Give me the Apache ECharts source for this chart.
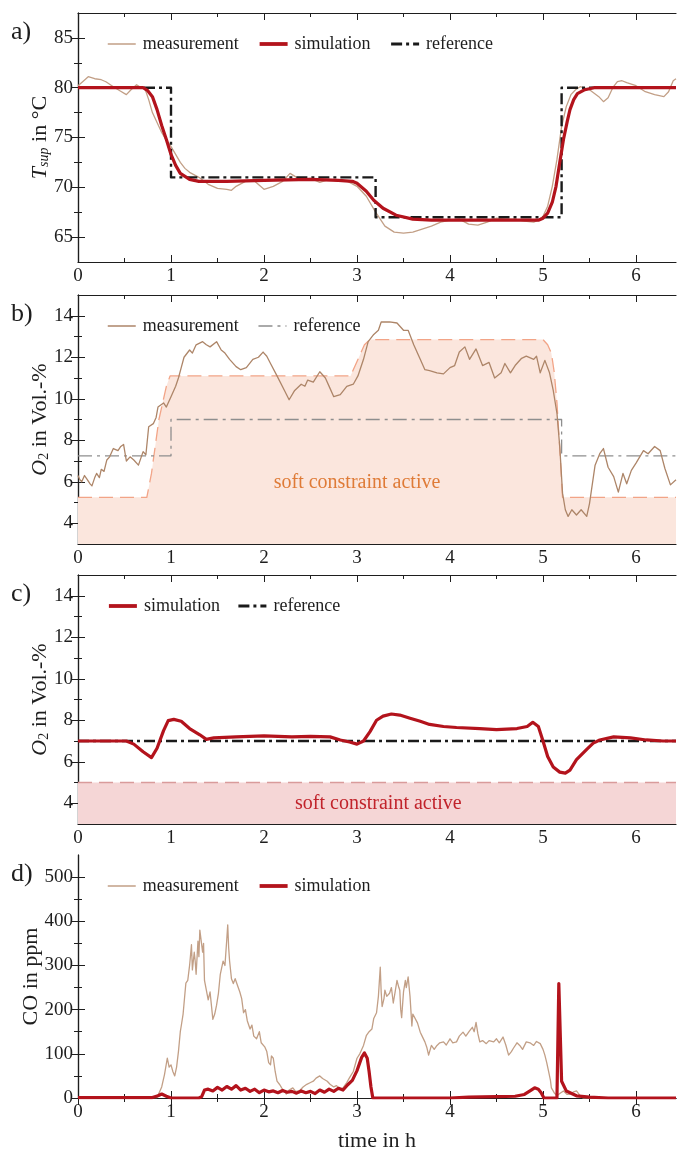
<!DOCTYPE html>
<html>
<head>
<meta charset="utf-8">
<script src="https://cdn.jsdelivr.net/npm/echarts@6/dist/echarts.min.js"></script>
<style>
  html, body { margin: 0; padding: 0; background: #ffffff; }
  #chart { width: 677px; height: 1153px; }
</style>
</head>
<body>
<div id="chart"></div>
<script>
// ---- axis ticks -------------------------------------------------------
const X_MAX = 6.43;
const X_TICKS = [0, 1, 2, 3, 4, 5, 6];
const X_MINOR = [0.5, 1.5, 2.5, 3.5, 4.5, 5.5];
const TSUP_TICKS = [65, 70, 75, 80, 85];
const TSUP_MINOR = [67.5, 72.5, 77.5, 82.5];
const O2_TICKS = [4, 6, 8, 10, 12, 14];
const O2_MINOR = [5, 7, 9, 11, 13];
const CO_TICKS = [0, 100, 200, 300, 400, 500];
const CO_MINOR = [50, 150, 250, 350, 450];

// ---- a) supply temperature [h, °C] -----------------------------------
const TSUP_MEAS = [[0,80.2],[0.05,80.6],[0.11,81.1],[0.18,80.9],[0.25,80.8],[0.3,80.6],[0.38,80.1],[0.45,79.7],[0.52,79.3],[0.57,79.8],[0.63,80.3],[0.68,80.0],[0.72,79.9],[0.76,78.8],[0.8,77.5],[0.85,76.5],[0.9,75.5],[0.95,74.7],[1.0,74.1],[1.05,73.3],[1.1,72.5],[1.15,71.9],[1.2,71.5],[1.3,71.0],[1.4,70.3],[1.5,69.9],[1.6,69.8],[1.65,69.7],[1.7,70.1],[1.8,70.6],[1.9,70.6],[1.95,70.2],[2.0,69.8],[2.1,70.1],[2.2,70.6],[2.28,71.4],[2.35,71.0],[2.4,70.8],[2.5,70.9],[2.6,70.5],[2.7,70.8],[2.8,70.6],[2.9,70.6],[3.0,70.1],[3.1,69.1],[3.2,67.5],[3.3,66.1],[3.4,65.5],[3.5,65.4],[3.6,65.5],[3.7,65.8],[3.8,66.1],[3.9,66.5],[4.0,66.7],[4.1,66.8],[4.2,66.3],[4.3,66.2],[4.4,66.5],[4.5,66.9],[4.6,66.8],[4.7,66.8],[4.8,66.6],[4.9,66.5],[4.95,66.7],[5.0,67.1],[5.05,68.1],[5.1,70.1],[5.15,72.8],[5.2,76.1],[5.25,78.1],[5.3,79.3],[5.35,79.8],[5.4,80.1],[5.5,79.8],[5.6,79.1],[5.65,78.6],[5.7,79.0],[5.75,80.0],[5.8,80.6],[5.85,80.7],[5.9,80.5],[6.0,80.2],[6.1,79.6],[6.2,79.3],[6.3,79.1],[6.35,79.6],[6.4,80.7],[6.43,80.9]];
const TSUP_SIM = [[0,80.0],[0.7,80.0],[0.75,79.7],[0.8,79.1],[0.85,77.8],[0.9,76.2],[0.95,74.8],[1.0,73.3],[1.05,72.2],[1.1,71.4],[1.2,70.8],[1.3,70.6],[1.6,70.6],[2.0,70.7],[2.5,70.8],[2.8,70.7],[2.95,70.6],[3.0,70.4],[3.1,69.6],[3.18,68.7],[3.28,67.9],[3.42,67.2],[3.6,66.8],[3.8,66.7],[4.5,66.7],[4.95,66.7],[5.0,66.9],[5.05,67.4],[5.1,68.5],[5.14,70.1],[5.18,72.5],[5.22,74.8],[5.26,76.6],[5.29,77.8],[5.33,78.8],[5.37,79.4],[5.45,79.8],[5.55,80.0],[6.43,80.0]];
const TSUP_REF = [[0,80],[1.0,71],[3.2,67],[5.2,80],[6.43,80]];

// ---- b) O2 measurement [h, Vol.-%] -----------------------------------
const O2_MEAS = [[0,6.3],[0.02,6.1],[0.04,6.0],[0.07,6.3],[0.1,6.1],[0.13,5.9],[0.15,5.8],[0.18,6.2],[0.2,6.4],[0.23,6.2],[0.25,6.6],[0.28,6.5],[0.31,7.05],[0.34,7.2],[0.38,7.6],[0.43,7.5],[0.46,7.7],[0.49,7.8],[0.52,7.0],[0.56,7.2],[0.6,7.05],[0.65,6.8],[0.7,7.45],[0.73,7.3],[0.76,8.65],[0.81,8.8],[0.84,9.1],[0.86,9.6],[0.92,9.8],[0.95,9.6],[1.0,10.1],[1.05,10.6],[1.08,11.0],[1.11,11.5],[1.14,12.0],[1.2,12.35],[1.23,12.2],[1.27,12.6],[1.34,12.75],[1.38,12.6],[1.42,12.5],[1.49,12.75],[1.54,12.35],[1.58,12.2],[1.63,11.9],[1.7,11.55],[1.75,11.4],[1.81,11.5],[1.88,11.9],[1.94,12.0],[1.99,12.25],[2.03,12.05],[2.07,11.7],[2.14,11.1],[2.22,10.4],[2.27,9.95],[2.33,10.4],[2.4,10.7],[2.44,10.6],[2.47,10.9],[2.53,10.8],[2.6,11.3],[2.66,11.0],[2.71,10.5],[2.75,10.1],[2.82,10.2],[2.89,10.6],[2.96,10.7],[3.01,11.1],[3.07,11.9],[3.12,12.75],[3.18,13.1],[3.23,13.3],[3.26,13.7],[3.35,13.7],[3.43,13.65],[3.5,13.3],[3.55,13.3],[3.61,12.6],[3.68,11.9],[3.73,11.4],[3.78,11.35],[3.86,11.25],[3.93,11.2],[4.0,11.5],[4.05,11.6],[4.1,12.25],[4.16,12.5],[4.21,11.9],[4.28,12.4],[4.35,11.6],[4.42,11.75],[4.48,11.0],[4.55,11.25],[4.59,11.7],[4.65,11.25],[4.7,11.6],[4.77,11.95],[4.82,12.05],[4.9,11.9],[4.93,12.05],[4.97,11.25],[5.02,11.85],[5.07,11.25],[5.11,10.4],[5.15,9.3],[5.18,7.7],[5.21,5.45],[5.24,4.65],[5.27,4.33],[5.31,4.65],[5.36,4.4],[5.41,4.65],[5.47,4.33],[5.5,4.95],[5.56,6.8],[5.61,7.35],[5.65,7.6],[5.7,6.7],[5.76,6.25],[5.81,5.5],[5.86,6.4],[5.9,5.9],[5.95,6.55],[6.0,6.9],[6.08,7.5],[6.13,7.35],[6.2,7.7],[6.26,7.5],[6.31,6.65],[6.37,5.85],[6.43,6.1]];
const O2_REF_B = [[0,7.25],[1.0,9.0],[5.2,7.25],[6.43,7.25]];
const O2_BOUND_B = [[0,5.25],[0.74,5.25],[0.79,6.4],[0.87,9.0],[0.95,10.6],[0.99,11.1],[2.93,11.1],[3.0,11.8],[3.08,12.6],[3.14,12.85],[5.0,12.85],[5.05,12.6],[5.09,12.2],[5.12,11.3],[5.15,9.8],[5.18,7.6],[5.21,5.25],[6.43,5.25]];

// ---- c) O2 simulation [h, Vol.-%] ------------------------------------
const O2_SIM = [[0,7.0],[0.3,7.0],[0.52,7.0],[0.6,6.85],[0.7,6.48],[0.79,6.2],[0.85,6.65],[0.92,7.5],[0.97,7.98],[1.03,8.04],[1.11,7.95],[1.2,7.6],[1.31,7.3],[1.38,7.08],[1.46,7.15],[1.7,7.2],[2.0,7.25],[2.3,7.2],[2.5,7.22],[2.71,7.2],[2.82,7.05],[2.92,6.95],[3.0,6.85],[3.07,7.0],[3.14,7.45],[3.21,8.0],[3.28,8.2],[3.37,8.3],[3.46,8.25],[3.57,8.1],[3.68,7.95],[3.78,7.8],[3.93,7.7],[4.07,7.65],[4.32,7.6],[4.5,7.55],[4.72,7.6],[4.83,7.7],[4.89,7.9],[4.95,7.7],[5.0,7.0],[5.05,6.25],[5.11,5.75],[5.18,5.5],[5.24,5.45],[5.29,5.6],[5.36,6.1],[5.47,6.6],[5.54,6.9],[5.61,7.05],[5.76,7.2],[5.94,7.15],[6.11,7.05],[6.29,7.0],[6.43,7.0]];
const O2_REF_C = [[0,7.0],[6.43,7.0]];
const O2_BOUND_C = [[0,5.0],[6.43,5.0]];

// ---- d) CO [h, ppm] --------------------------------------------------
const CO_MEAS = [[0,1],[0.5,1],[0.85,1],[0.87,5],[0.9,25],[0.93,53],[0.96,90],[0.98,70],[1.0,75],[1.02,60],[1.04,50],[1.06,70],[1.08,105],[1.1,150],[1.11,163],[1.13,190],[1.15,237],[1.16,260],[1.18,266],[1.2,300],[1.22,347],[1.23,290],[1.25,330],[1.26,310],[1.27,280],[1.29,355],[1.3,320],[1.31,380],[1.33,377],[1.34,330],[1.35,350],[1.36,266],[1.38,270],[1.4,222],[1.42,240],[1.45,178],[1.47,190],[1.49,210],[1.51,237],[1.53,280],[1.56,310],[1.58,300],[1.6,360],[1.61,392],[1.62,340],[1.63,310],[1.65,270],[1.67,259],[1.69,270],[1.72,252],[1.74,240],[1.76,225],[1.78,193],[1.8,200],[1.82,175],[1.85,156],[1.87,165],[1.89,140],[1.92,134],[1.95,150],[1.97,125],[1.99,127],[2.01,115],[2.03,105],[2.05,80],[2.07,75],[2.08,95],[2.1,90],[2.12,60],[2.14,38],[2.17,30],[2.19,23],[2.22,15],[2.24,9],[2.27,18],[2.31,23],[2.34,15],[2.38,16],[2.42,25],[2.46,31],[2.5,35],[2.53,38],[2.56,45],[2.6,50],[2.63,44],[2.65,46],[2.68,38],[2.71,31],[2.75,25],[2.78,28],[2.82,20],[2.85,23],[2.89,35],[2.92,46],[2.96,60],[3.0,90],[3.03,100],[3.07,119],[3.1,141],[3.13,150],[3.16,156],[3.18,180],[3.21,193],[3.23,230],[3.25,296],[3.26,240],[3.27,207],[3.29,225],[3.3,244],[3.32,230],[3.35,237],[3.37,250],[3.39,215],[3.41,240],[3.43,266],[3.45,250],[3.46,244],[3.47,200],[3.48,182],[3.5,240],[3.52,266],[3.53,250],[3.55,274],[3.57,230],[3.59,163],[3.6,190],[3.62,193],[3.65,170],[3.68,149],[3.7,140],[3.73,127],[3.75,115],[3.77,97],[3.8,119],[3.83,110],[3.86,119],[3.89,125],[3.93,127],[3.96,120],[4.0,134],[4.03,125],[4.07,127],[4.1,140],[4.14,149],[4.17,140],[4.21,152],[4.24,160],[4.26,150],[4.28,171],[4.3,145],[4.32,127],[4.35,130],[4.39,123],[4.42,130],[4.47,127],[4.5,134],[4.53,125],[4.57,138],[4.6,120],[4.63,97],[4.66,105],[4.68,112],[4.72,125],[4.75,119],[4.78,110],[4.82,127],[4.86,125],[4.9,119],[4.93,128],[4.97,123],[5.0,110],[5.02,97],[5.04,80],[5.06,60],[5.08,40],[5.09,23],[5.12,12],[5.15,5],[5.18,10],[5.22,16],[5.26,8],[5.29,9],[5.33,14],[5.36,16],[5.4,5],[5.43,0],[6.43,0]];
const CO_SIM = [[0,1],[0.8,1],[0.86,5],[0.9,9],[0.95,4],[1.0,0],[1.3,0],[1.33,3],[1.36,18],[1.4,20],[1.45,16],[1.5,24],[1.55,18],[1.6,26],[1.65,20],[1.7,28],[1.75,18],[1.8,22],[1.85,15],[1.9,20],[1.95,12],[2.0,18],[2.05,14],[2.1,16],[2.15,12],[2.2,17],[2.25,13],[2.3,15],[2.35,11],[2.4,16],[2.45,12],[2.5,15],[2.55,10],[2.6,18],[2.65,13],[2.7,20],[2.75,15],[2.8,22],[2.85,18],[2.9,30],[2.95,40],[3.0,62],[3.05,92],[3.08,102],[3.11,90],[3.13,60],[3.15,25],[3.17,0],[4.0,0],[4.2,2],[4.5,3],[4.7,4],[4.8,8],[4.86,16],[4.91,23],[4.95,20],[4.98,12],[5.01,0],[5.15,0],[5.17,259],[5.2,38],[5.25,16],[5.36,5],[5.5,2],[5.7,0],[6.43,0]];

// ---- styling ---------------------------------------------------------
const FONT = 'Liberation Serif';
const INK = '#1e1e1e';
const MEAS = '#c29f86';
const MEAS_B = '#ad8568';
const SIM = '#b3131c';
const REF = '#1a1a1a';
const REF_B = '#8e8e8e';
const DASH_DOT = [11, 4, 3, 4];
const DASH_DOT_B = [14, 5, 3, 5];

// plot rectangles (px)
const GRIDS = [
  { left: 78, top: 13, width: 598, height: 249 },
  { left: 78, top: 295, width: 598, height: 249 },
  { left: 78, top: 575, width: 598, height: 249 },
  { left: 78, top: 855, width: 598, height: 249 }
];

const xAxes = [];
const yAxes = [];

function tickAxis(base, values, len, showLine) {
  return Object.assign({
    type: 'value',
    axisLine: { show: showLine, lineStyle: { color: INK, width: 1.2 } },
    axisTick: { show: true, inside: true, length: len, customValues: values, lineStyle: { color: INK, width: 1 } },
    axisLabel: { show: false, customValues: values },
    splitLine: { show: false },
    silent: true
  }, base);
}

function addPanel(gi, yMin, yMax, yTicks, yMinor, yName, nameGap, xName) {
  const xb = { gridIndex: gi, min: 0, max: X_MAX };
  const bottom = tickAxis(Object.assign({ position: 'bottom' }, xb), X_TICKS, 7, true);
  bottom.axisLabel = { show: true, customValues: X_TICKS, fontFamily: FONT, fontSize: 19, color: INK, margin: 5 };
  if (xName) {
    bottom.name = xName;
    bottom.nameLocation = 'middle';
    bottom.nameGap = 32;
    bottom.nameMoveOverlap = false;
    bottom.nameTextStyle = { fontFamily: FONT, fontSize: 22, color: INK };
  }
  xAxes.push(bottom);
  xAxes.push(tickAxis(Object.assign({ position: 'bottom' }, xb), X_MINOR, 4, false));
  xAxes.push(tickAxis(Object.assign({ position: 'top' }, xb), X_TICKS, 7, true));
  xAxes.push(tickAxis(Object.assign({ position: 'top' }, xb), X_MINOR, 4, false));

  const yb = { gridIndex: gi, min: yMin, max: yMax };
  const left = tickAxis(Object.assign({ position: 'left' }, yb), yTicks, 7, true);
  left.axisLabel = { show: true, customValues: yTicks, fontFamily: FONT, fontSize: 19, color: INK, margin: 5 };
  left.name = yName;
  left.nameLocation = 'middle';
  left.nameRotate = 90;
  left.nameGap = nameGap;
  left.nameMoveOverlap = false;
  left.nameTextStyle = {
    fontFamily: FONT, fontSize: 22, color: INK,
    rich: {
      it: { fontFamily: FONT, fontSize: 22, fontStyle: 'italic', color: INK, lineHeight: 24, verticalAlign: 'bottom' },
      sub: { fontFamily: FONT, fontSize: 14, fontStyle: 'italic', color: INK, lineHeight: 10, verticalAlign: 'bottom' },
      subr: { fontFamily: FONT, fontSize: 14, color: INK, lineHeight: 10, verticalAlign: 'bottom' },
      n: { fontFamily: FONT, fontSize: 22, color: INK, lineHeight: 24, verticalAlign: 'bottom' }
    }
  };
  yAxes.push(left);
  yAxes.push(tickAxis(Object.assign({ position: 'left' }, yb), yMinor, 4, false));
  yAxes.push(tickAxis(Object.assign({ position: 'right' }, yb), yTicks, 7, true));
  yAxes.push(tickAxis(Object.assign({ position: 'right' }, yb), yMinor, 4, false));
}

addPanel(0, 62.5, 87.5, TSUP_TICKS, TSUP_MINOR, '{it|T}{sub|sup}{n| in °C}', 27);
addPanel(1, 3, 15, O2_TICKS, O2_MINOR, '{it|O}{subr|2}{n| in Vol.-%}', 27);
addPanel(2, 3, 15, O2_TICKS, O2_MINOR, '{it|O}{subr|2}{n| in Vol.-%}', 27);
addPanel(3, 0, 550, CO_TICKS, CO_MINOR, '{n|CO in ppm}', 36, 'time in h');

function line(name, gi, data, color, width, dash, extra) {
  return Object.assign({
    name: name,
    type: 'line',
    xAxisIndex: gi * 4,
    yAxisIndex: gi * 4,
    data: data,
    symbol: 'none',
    showSymbol: false,
    smooth: false,
    silent: true,
    animation: false,
    lineStyle: { color: color, width: width, type: dash || 'solid', cap: 'butt', join: 'round' },
    itemStyle: { color: color }
  }, extra || {});
}

const series = [
  // a)
  line('a measurement', 0, TSUP_MEAS, MEAS, 1.3),
  line('a reference', 0, TSUP_REF, REF, 2.4, DASH_DOT, { step: 'end', z: 3 }),
  line('a simulation', 0, TSUP_SIM, SIM, 3.2, null, { z: 4 }),
  // b)
  line('b bound', 1, O2_BOUND_B, '#f2a487', 1.3, [14, 7], {
    areaStyle: { color: '#fbe6dd', opacity: 1, origin: 'start' }, z: 1
  }),
  line('b reference', 1, O2_REF_B, REF_B, 1.3, DASH_DOT_B, { step: 'end', z: 3 }),
  line('b measurement', 1, O2_MEAS, MEAS_B, 1.3, null, { z: 4 }),
  // c)
  line('c bound', 2, O2_BOUND_C, '#d99b9b', 1.3, [14, 7], {
    areaStyle: { color: '#f5d6d6', opacity: 1, origin: 'start' }, z: 1
  }),
  line('c reference', 2, O2_REF_C, REF, 2.4, DASH_DOT, { z: 3 }),
  line('c simulation', 2, O2_SIM, SIM, 3.2, null, { z: 4 }),
  // d)
  line('d measurement', 3, CO_MEAS, MEAS, 1.3),
  line('d simulation', 3, CO_SIM, SIM, 3.2, null, { z: 4 })
];

// legend entries: [series name, icon line width]
function legendAt(top, entries, gap) {
  return {
    left: 107, top: top, padding: 0,
    orient: 'horizontal',
    itemWidth: 28, itemHeight: 14, itemGap: gap,
    selectedMode: false,
    data: entries.map(e => ({ name: e[0], lineStyle: { width: e[1] } })),
    formatter: function (n) { return n.slice(2); },
    itemStyle: { opacity: 0 },
    textStyle: { fontFamily: FONT, fontSize: 18, color: INK, padding: [0, 0, 0, 2] }
  };
}

const chart = echarts.init(document.getElementById('chart'), null, { renderer: 'canvas' });

chart.setOption({
  backgroundColor: '#ffffff',
  animation: false,
  grid: GRIDS.map(g => Object.assign({ containLabel: false }, g)),
  xAxis: xAxes,
  yAxis: yAxes,
  legend: [
    legendAt(35, [['a measurement', 1.5], ['a simulation', 3.8], ['a reference', 3]], 19),
    legendAt(317, [['b measurement', 1.5], ['b reference', 1.5]], 19),
    legendAt(597, [['c simulation', 3.8], ['c reference', 3]], 17),
    legendAt(877, [['d measurement', 1.5], ['d simulation', 3.8]], 19)
  ],
  series: series
});

// panel letters and constraint annotations
const letters = ['a)', 'b)', 'c)', 'd)'].map((t, i) => ({
  type: 'text', left: 11, top: GRIDS[i].top + 6,
  style: { text: t, fontFamily: FONT, fontSize: 26, fill: INK }
}));
const pB = chart.convertToPixel({ xAxisIndex: 4, yAxisIndex: 4 }, [3.0, 5.95]);
const pC = chart.convertToPixel({ xAxisIndex: 8, yAxisIndex: 8 }, [3.23, 3.97]);
const notes = [
  { type: 'text', x: pB[0], y: pB[1], z: 10,
    style: { text: 'soft constraint active', fontFamily: FONT, fontSize: 20, fill: '#df7b37', align: 'center', verticalAlign: 'middle' } },
  { type: 'text', x: pC[0], y: pC[1], z: 10,
    style: { text: 'soft constraint active', fontFamily: FONT, fontSize: 20, fill: '#c1232b', align: 'center', verticalAlign: 'middle' } }
];
chart.setOption({ graphic: letters.concat(notes) });
</script>
</body>
</html>
